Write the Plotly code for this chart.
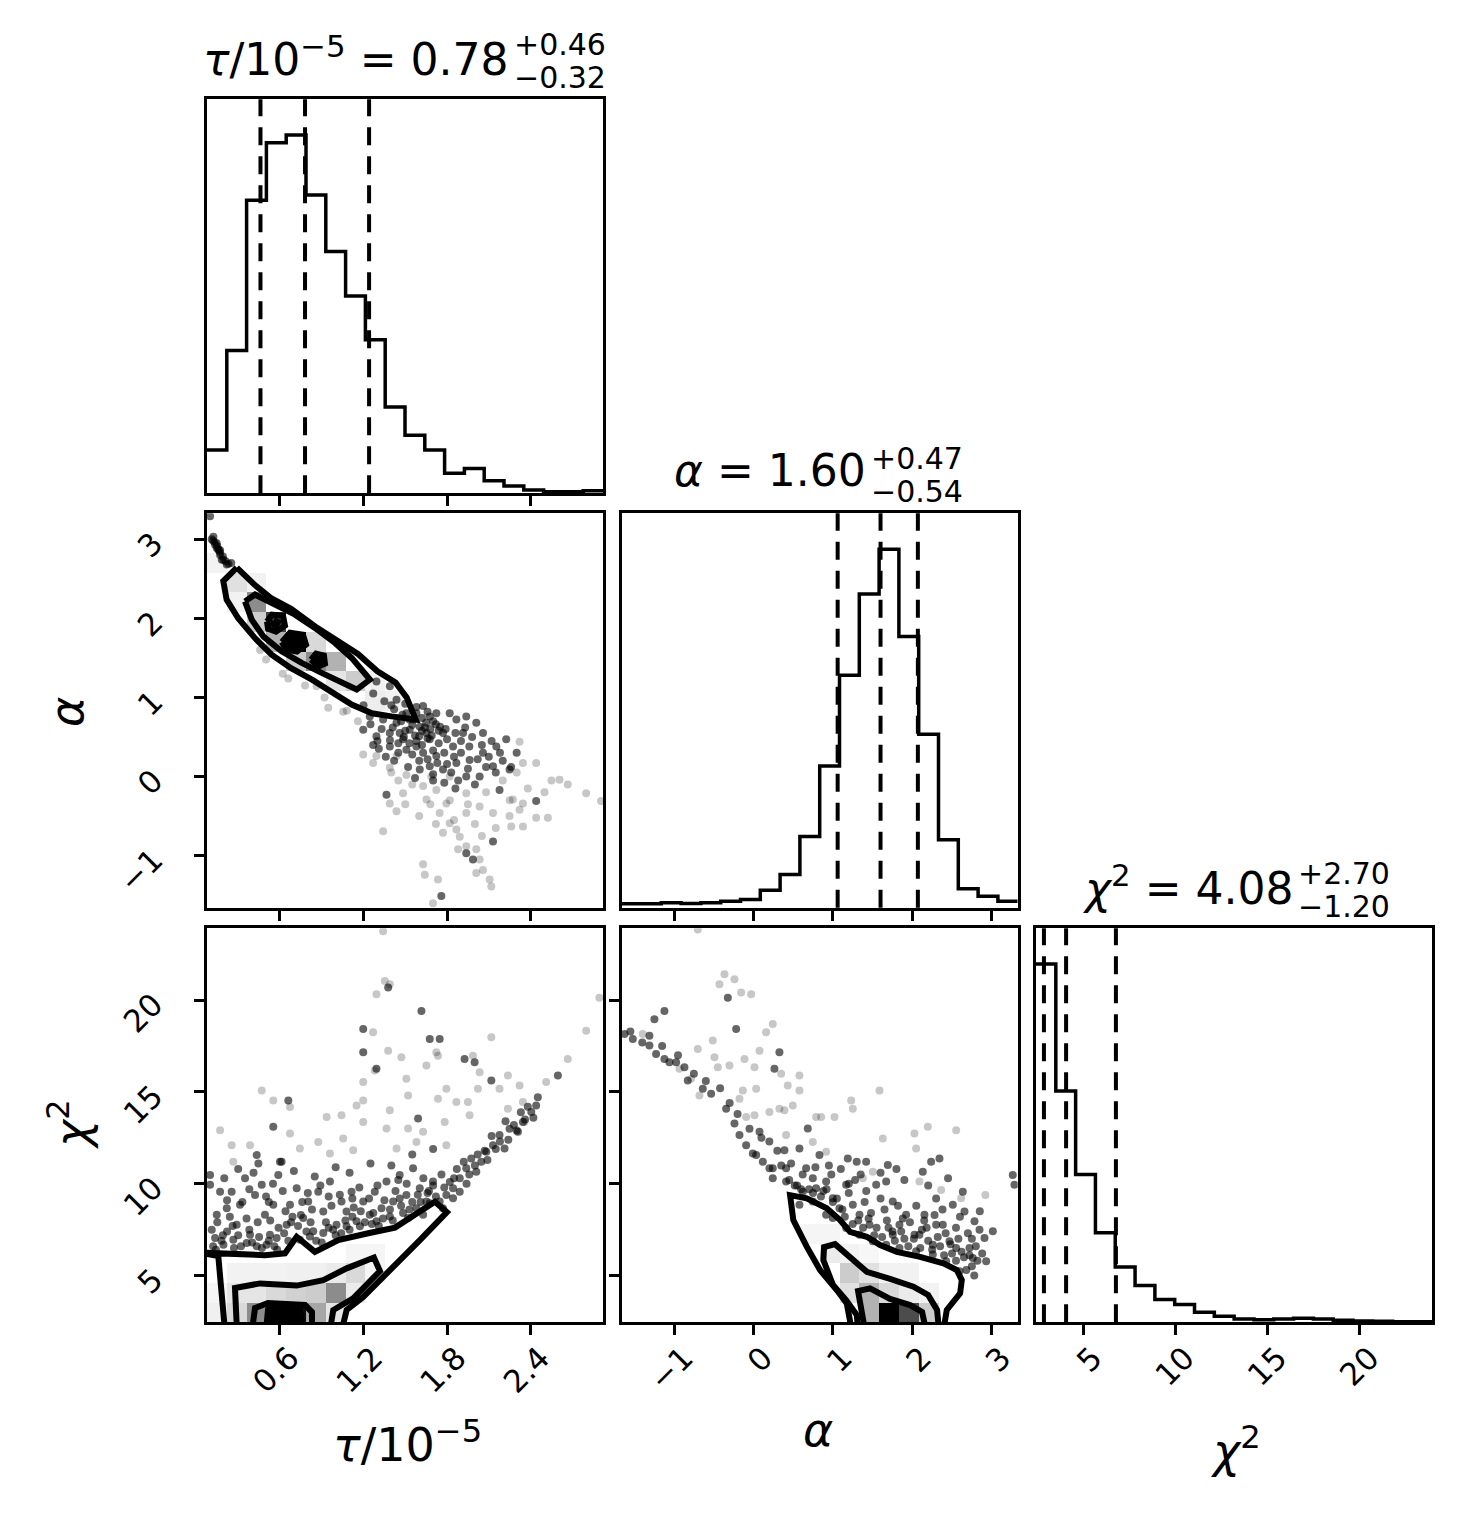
import numpy as np
import plotly.graph_objects as go


W, H = 1461, 1530
FONT = "DejaVu Sans"

# parameter ranges (tau is in units of 1e-5), 20 bins each
tau_range = [0.076, 2.92]
alpha_range = [-1.659, 3.327]
chi2_range = [2.45, 23.92]
nbins = 20

# 1D marginal histograms (counts per bin)
tau_counts = [130, 430, 882, 1055, 1078, 898, 728, 594, 462, 260, 175, 130, 60, 75, 38, 22, 10, 5, 5, 8]
alpha_counts = [12, 12, 15, 13, 15, 20, 25, 53, 100, 215, 427, 700, 945, 1080, 817, 523, 205, 57, 35, 20]
chi2_counts = [1073, 693, 443, 268, 166, 110, 68, 53, 30, 18, 10, 8, 10, 12, 10, 6, 4, 3, 2, 2]

# 16 / 50 / 84 percentiles
tau_q = [0.46, 0.78, 1.24]
alpha_q = [1.06, 1.60, 2.07]
chi2_q = [2.88, 4.08, 6.78]

tau_ticks = [0.6, 1.2, 1.8, 2.4]
alpha_ticks = [-1, 0, 1, 2, 3]
chi2_ticks = [5, 10, 15, 20]

# 2D density cells: (x bin, y bin, shade 0..1)
ta_cells = [(1, 16, 0.12), (1, 15, 0.05), (0, 17, 0.05), (2, 16, 0.05), (2, 15, 0.45), (2, 14, 0.2),
            (3, 14, 0.75), (3, 13, 0.3), (4, 13, 1.0), (4, 12, 0.2), (5, 13, 0.15), (5, 12, 0.45),
            (6, 12, 0.3), (6, 11, 0.1), (7, 11, 0.2), (8, 10, 0.07), (9, 10, 0.05), (8, 11, 0.05)]
tc_cells = [(0, 0, 0.06), (1, 0, 0.15), (2, 0, 0.45), (3, 0, 0.95), (4, 0, 0.95), (5, 0, 0.35), (6, 0, 0.1),
            (0, 1, 0.04), (1, 1, 0.1), (2, 1, 0.1), (3, 1, 0.15), (4, 1, 0.18), (5, 1, 0.2), (6, 1, 0.45), (7, 1, 0.08),
            (1, 2, 0.05), (2, 2, 0.05), (3, 2, 0.05), (4, 2, 0.06), (5, 2, 0.06), (6, 2, 0.08), (7, 2, 0.15), (8, 2, 0.04),
            (7, 3, 0.04), (8, 3, 0.04)]
ac_cells = [(12, 0, 0.3), (13, 0, 1.0), (14, 0, 0.7), (15, 0, 0.2),
            (11, 1, 0.12), (12, 1, 0.3), (13, 1, 0.15), (14, 1, 0.08), (15, 1, 0.05),
            (11, 2, 0.2), (12, 2, 0.12), (13, 2, 0.05), (14, 2, 0.05),
            (10, 3, 0.08), (11, 3, 0.05), (12, 3, 0.03), (9, 4, 0.04), (10, 4, 0.04)]

# contour paths (tau, alpha)
ta_outer = [(0.29, 2.64), (0.42, 2.42), (0.54, 2.25), (0.68, 2.12), (0.85, 1.90), (1.02, 1.71), (1.16, 1.55),
            (1.30, 1.33), (1.43, 1.19), (1.51, 1.00), (1.575, 0.72), (1.40, 0.76), (1.26, 0.80), (1.115, 0.91),
            (0.97, 1.075), (0.83, 1.225), (0.68, 1.37), (0.54, 1.54), (0.42, 1.75), (0.30, 2.00), (0.217, 2.235),
            (0.193, 2.47), (0.29, 2.64)]
ta_mid = [(0.349, 2.214), (0.421, 2.30), (0.564, 2.172), (0.708, 2.046), (0.851, 1.878), (0.995, 1.689),
          (1.115, 1.499), (1.246, 1.225), (1.151, 1.099), (1.043, 1.183), (0.899, 1.310), (0.756, 1.436),
          (0.612, 1.583), (0.480, 1.772), (0.397, 1.983), (0.349, 2.214)]
ta_ring = [(0.507, 1.958), (0.543, 2.046), (0.622, 2.033), (0.636, 1.907), (0.571, 1.831), (0.514, 1.869), (0.507, 1.958)]
ta_blobs = [
    [(0.555, 1.97), (0.585, 1.95), (0.57, 1.91), (0.55, 1.93)],
    [(0.614, 1.70), (0.672, 1.819), (0.765, 1.794), (0.787, 1.667), (0.722, 1.579), (0.643, 1.604)],
    [(0.823, 1.478), (0.859, 1.554), (0.916, 1.528), (0.923, 1.427), (0.873, 1.389)],
]

# contour paths (tau, chi2)
tc_outer = [(0.205, 2.0), (0.157, 6.06), (0.02, 6.25), (0.157, 6.22), (0.301, 6.21), (0.492, 6.11), (0.636, 6.21),
            (0.720, 7.11), (0.851, 6.29), (1.019, 6.93), (1.234, 7.30), (1.426, 7.61), (1.713, 9.02), (1.799, 8.45),
            (1.605, 6.93), (1.418, 5.48), (1.198, 3.83), (1.079, 3.12), (1.043, 2.0)]
tc_mid = [(0.291, 2.0), (0.277, 4.32), (0.457, 4.57), (0.720, 4.45), (0.911, 4.75), (1.079, 5.39), (1.275, 5.98),
          (1.318, 5.24), (1.126, 3.76), (0.983, 3.12), (0.959, 2.0)]
tc_inner = [(0.399, 2.0), (0.421, 3.23), (0.514, 3.50), (0.780, 3.39), (0.830, 3.01), (0.830, 2.0)]
tc_blob = [(0.500, 2.0), (0.514, 3.12), (0.614, 3.28), (0.744, 3.17), (0.765, 2.0)]

# contour paths (alpha, chi2)
ac_outer = [(1.238, 2.0), (1.175, 3.48), (1.049, 4.21), (0.838, 5.30), (0.671, 6.57), (0.502, 8.02), (0.461, 9.38),
            (0.671, 9.20), (0.923, 8.66), (1.090, 8.02), (1.216, 7.38), (1.427, 7.11), (1.594, 6.66), (1.805, 6.29),
            (2.098, 6.02), (2.391, 5.66), (2.560, 5.30), (2.623, 4.75), (2.602, 4.03), (2.434, 3.12), (2.391, 2.0)]
ac_mid = [(1.318, 2.0), (1.301, 2.85), (1.166, 3.66), (1.002, 4.48), (0.880, 5.84), (0.889, 6.55), (1.027, 6.71),
          (1.216, 5.95), (1.427, 5.20), (1.720, 4.81), (2.014, 4.39), (2.199, 3.94), (2.312, 3.12), (2.337, 2.0)]
ac_inner = [(1.405, 2.0), (1.355, 3.39), (1.317, 4.15), (1.468, 4.30), (1.720, 3.72), (1.972, 3.39), (2.123, 3.01), (2.174, 2.0)]

# samples outside the outer contour (tau, alpha)
ta_dense = [(0.098, 3.29), (0.122, 3.03), (0.134, 2.93), (0.146, 2.89), (0.158, 2.87), (0.170, 2.80), (0.182, 2.74),
            (0.194, 2.74), (0.218, 2.68), (0.146, 2.95), (0.170, 2.86), (0.11, 3.0), (0.13, 2.96), (0.12, 2.98),
            (0.15, 2.91), (0.17, 2.83), (0.19, 2.78), (0.21, 2.72), (0.16, 2.86), (0.23, 2.69), (0.25, 2.70),
            (1.293, 1.20), (1.389, 1.14), (1.437, 0.97), (1.508, 0.80), (1.628, 0.89), (1.676, 0.76), (1.723, 0.80),
            (1.604, 0.63), (1.652, 0.55), (1.532, 0.59), (1.437, 0.68), (1.341, 0.72), (1.245, 0.76), (1.198, 0.59),
            (1.293, 0.51), (1.389, 0.55), (1.484, 0.47), (1.580, 0.38), (1.676, 0.47), (1.771, 0.55), (1.819, 0.80),
            (1.867, 0.72), (1.938, 0.76), (2.010, 0.68), (2.058, 0.55), (1.915, 0.55), (1.843, 0.38), (1.723, 0.26),
            (1.628, 0.30), (1.508, 0.34), (1.389, 0.38), (1.269, 0.40), (1.676, 0.13), (1.771, 0.09), (1.867, 0.17),
            (1.962, 0.21), (2.058, 0.30), (2.154, 0.38), (2.225, 0.47), (2.034, 0.00), (1.938, 0.00), (2.130, 0.13),
            (1.604, 0.09), (1.53, 0.72), (1.58, 0.80), (1.65, 0.68), (1.75, 0.63), (1.80, 0.47), (1.60, 0.51),
            (1.46, 0.55), (1.53, 0.42), (1.938, -0.97), (1.986, -1.05), (1.759, -1.51), (1.365, -0.23),
            (2.177, -0.17), (2.249, 0.09), (2.440, -0.31), (2.130, -0.82),
            (1.35, 0.95), (1.42, 0.85), (1.47, 0.70), (1.55, 0.65), (1.62, 0.74), (1.70, 0.70), (1.74, 0.58),
            (1.68, 0.60), (1.57, 0.52), (1.50, 0.58), (1.41, 0.62), (1.33, 0.60), (1.25, 0.66), (1.30, 0.45),
            (1.45, 0.42), (1.62, 0.40), (1.70, 0.33), (1.78, 0.30), (1.85, 0.25), (1.90, 0.45), (1.98, 0.50),
            (2.05, 0.40), (2.10, 0.25), (1.95, 0.10), (1.83, 0.05), (1.73, 0.17), (1.60, 0.20), (1.55, 0.28),
            (1.45, 0.30), (1.36, 0.25), (2.20, 0.20), (2.30, 0.30), (1.20, 0.90), (1.27, 1.05), (1.50, 0.92),
            (1.58, 0.88), (1.66, 0.82), (2.15, 0.05), (2.00, -0.10), (1.88, -0.05), (1.78, -0.08), (1.70, 0.03),
            (1.40, 0.90), (1.48, 0.78), (1.56, 0.72), (1.64, 0.62), (1.72, 0.66), (1.79, 0.60), (1.86, 0.55),
            (1.93, 0.62), (1.96, 0.38), (2.02, 0.22), (2.08, 0.12), (1.74, 0.42), (1.66, 0.48), (1.58, 0.45),
            (1.49, 0.50), (1.39, 0.46), (1.31, 0.35), (1.42, 0.20), (1.52, 0.12), (1.66, 0.22), (1.80, 0.16),
            (1.90, 0.30), (2.12, 0.45), (2.18, 0.30), (2.26, 0.12), (1.86, -0.15), (1.70, -0.05), (1.57, -0.02),
            (1.62, 0.58), (1.69, 0.52)]
ta_faint = [(0.457, 1.60), (0.660, 1.24), (0.863, 1.14), (0.947, 0.87), (1.054, 0.82), (1.198, 0.28), (1.293, 0.26),
            (1.437, 0.26), (2.321, 0.44), (2.440, 0.17), (2.345, 0.17), (1.819, 0.00), (1.687, 0.00), (1.508, 0.02),
            (1.389, 0.11), (1.269, 0.17), (1.484, -0.21), (1.628, -0.12), (1.723, -0.17), (1.938, -0.21),
            (2.273, -0.29), (2.345, -0.34), (2.608, -0.04), (2.667, -0.10), (2.799, -0.21), (2.906, -0.31),
            (1.389, -0.34), (1.437, -0.44), (1.652, -0.29), (1.747, -0.46), (1.795, -0.34), (1.938, -0.46),
            (2.034, -0.38), (2.130, -0.46), (2.249, -0.50), (2.321, -0.42), (2.440, -0.52), (2.524, -0.52),
            (1.819, -0.59), (1.867, -0.67), (1.891, -0.76), (1.938, -0.88), (2.010, -0.92), (2.034, -1.05),
            (1.879, -0.92), (2.106, -1.30), (2.118, -1.39), (2.058, -1.18), (2.010, -1.22), (1.771, -0.71),
            (1.628, -1.11), (1.640, -1.24), (1.735, -1.30), (1.699, -1.60), (1.341, -0.69), (2.261, -0.63),
            (2.345, -0.63), (0.62, 1.30), (0.78, 1.15), (0.92, 1.00), (1.08, 0.83), (1.16, 0.70), (0.50, 1.48),
            (1.55, -0.10), (1.68, -0.35), (1.82, -0.30), (1.95, -0.35), (2.08, -0.20), (2.20, -0.05), (2.30, 0.05),
            (2.38, -0.15), (2.50, -0.20), (2.55, -0.05), (1.45, -0.05), (1.60, -0.50), (1.72, -0.60), (1.85, -0.55),
            (2.00, -0.60), (2.15, -0.65), (2.25, -0.30), (1.40, 0.05), (1.50, -0.35), (2.05, -0.75)]

# samples outside the outer contour (tau, chi2)
tc_dense = [(0.110, 7.50), (0.134, 7.04), (0.146, 8.31), (0.170, 9.57), (0.218, 8.67), (0.253, 9.57), (0.289, 7.77),
            (0.313, 8.85), (0.349, 10.30), (0.385, 7.22), (0.421, 9.39), (0.445, 11.11), (0.469, 9.94), (0.492, 8.31),
            (0.528, 7.22), (0.552, 8.85), (0.588, 10.48), (0.612, 11.20), (0.648, 7.77), (0.672, 8.85), (0.720, 9.75),
            (0.767, 8.13), (0.803, 9.03), (0.839, 7.41), (0.875, 9.57), (0.911, 8.49), (0.959, 10.12), (1.006, 7.77),
            (1.042, 9.03), (1.078, 8.49), (1.114, 9.57), (1.150, 7.95), (1.198, 9.03), (1.245, 8.31), (1.281, 9.57),
            (1.329, 8.67), (1.365, 10.12), (1.413, 9.03), (1.460, 10.48), (1.508, 9.39), (1.556, 10.84), (1.604, 9.75),
            (1.652, 9.03), (1.699, 10.12), (1.747, 9.03), (1.795, 9.39), (1.843, 9.75), (1.891, 10.30), (1.938, 10.84),
            (1.974, 11.38), (2.010, 10.66), (2.046, 11.20), (2.082, 11.74), (2.130, 12.10), (2.177, 12.65),
            (2.213, 11.92), (2.249, 13.00), (2.309, 12.83), (2.345, 13.37), (2.405, 13.91), (2.440, 14.27),
            (1.676, 17.89), (1.747, 17.89), (1.926, 16.80), (1.998, 16.62), (1.616, 19.42), (2.118, 15.63),
            (2.596, 15.90), (1.293, 16.26), (1.198, 17.16), (1.377, 20.69), (0.098, 10.48), (0.098, 9.94),
            (0.433, 11.56), (0.600, 11.20), (0.552, 13.10), (0.660, 14.54), (1.592, 13.55), (1.198, 18.43),
            (2.452, 14.72), (0.194, 6.68), (0.265, 6.95), (0.361, 6.77), (0.433, 6.59), (0.504, 6.68), (0.576, 7.04),
            (0.743, 6.95), (0.815, 7.13), (0.911, 7.31), (0.982, 7.50), (1.078, 7.68), (1.174, 7.68), (1.293, 7.95),
            (1.389, 8.22), (1.484, 8.40), (1.580, 8.67), (1.676, 8.94), (1.628, 8.31), (1.520, 8.13), (1.771, 8.67),
            (1.843, 9.21), (1.891, 9.57),
            (0.12, 6.6), (0.15, 7.9), (0.18, 6.9), (0.22, 7.4), (0.24, 8.2), (0.27, 6.5), (0.30, 7.2), (0.33, 9.0),
            (0.36, 8.1), (0.40, 6.8), (0.44, 7.9), (0.47, 6.5), (0.50, 9.3), (0.53, 8.0), (0.56, 6.6), (0.59, 7.6),
            (0.62, 9.6), (0.66, 6.9), (0.69, 8.2), (0.73, 7.7), (0.76, 9.0), (0.79, 7.4), (0.83, 8.6), (0.86, 6.9),
            (0.89, 9.9), (0.93, 7.9), (0.97, 8.8), (1.00, 7.2), (1.03, 9.4), (1.07, 8.0), (1.10, 7.5), (1.13, 8.7),
            (1.17, 9.8), (1.21, 7.9), (1.24, 9.2), (1.27, 8.4), (1.31, 7.7), (1.35, 9.1), (1.39, 8.6), (1.43, 9.6),
            (1.47, 8.8), (1.51, 10.0), (1.55, 9.0), (1.59, 9.4), (1.63, 10.3), (1.67, 9.6), (1.72, 9.3), (1.76, 10.5),
            (1.82, 10.1), (1.87, 10.8), (1.92, 11.2), (1.96, 10.5), (2.02, 11.6), (2.07, 11.8), (2.12, 12.6),
            (2.18, 12.3), (2.22, 13.4), (2.28, 13.2), (2.33, 13.9), (2.38, 14.2), (0.20, 10.3), (0.30, 10.8),
            (0.41, 10.6), (0.55, 10.0), (0.70, 10.7), (0.85, 10.4), (1.00, 10.9), (1.10, 10.6), (1.25, 11.1),
            (1.40, 11.0), (1.55, 11.6), (1.70, 11.9),
            (0.14, 6.4), (0.19, 7.2), (0.26, 7.7), (0.32, 6.6), (0.38, 7.5), (0.45, 7.1), (0.52, 6.9), (0.58, 6.4),
            (0.63, 7.3), (0.68, 7.9), (0.75, 8.3), (0.82, 7.9), (0.90, 6.8), (0.95, 7.6), (1.04, 7.3), (1.12, 8.2),
            (1.18, 8.5), (1.26, 7.8), (1.34, 8.1), (1.41, 8.0), (1.46, 9.2), (1.53, 8.6), (1.61, 9.0), (1.66, 9.5),
            (1.70, 9.9), (1.78, 9.8), (1.85, 10.3), (1.94, 10.0), (2.00, 11.0), (2.09, 11.3), (2.15, 11.9),
            (2.24, 12.4), (2.30, 12.9), (2.36, 13.5), (2.42, 13.6), (0.22, 9.1), (0.38, 9.7), (0.52, 9.0),
            (0.64, 8.5), (0.80, 9.5), (0.95, 9.3), (1.12, 9.2), (1.30, 9.9), (1.45, 10.2)]
tc_faint = [(0.170, 12.92), (0.265, 11.20), (0.469, 15.08), (0.672, 14.18), (0.672, 12.74), (0.935, 13.64),
            (0.959, 11.65), (1.054, 12.46), (1.126, 11.83), (1.150, 14.27), (1.198, 13.37), (1.269, 18.25),
            (1.353, 21.05), (1.293, 20.33), (1.389, 20.87), (1.341, 23.76), (1.377, 17.25), (1.281, 16.17),
            (1.198, 15.54), (1.389, 14.00), (1.472, 16.89), (1.508, 15.72), (1.520, 13.01), (1.580, 12.28),
            (1.652, 16.44), (1.723, 17.16), (1.735, 14.63), (1.795, 15.17), (1.795, 12.10), (1.867, 14.45),
            (1.950, 14.45), (2.022, 15.17), (2.034, 16.08), (2.118, 17.98), (2.177, 15.17), (2.237, 15.90),
            (2.321, 15.36), (2.345, 14.45), (2.512, 15.54), (2.667, 16.80), (2.799, 18.34), (2.894, 20.14),
            (1.986, 16.98), (1.735, 16.98), (1.628, 12.83), (1.520, 14.81), (1.365, 13.01), (1.042, 13.73),
            (0.875, 12.28), (0.743, 11.92), (0.385, 12.10), (0.253, 12.10), (0.552, 14.54), (1.198, 14.54),
            (1.437, 11.92), (1.783, 13.37), (1.962, 13.73), (2.237, 14.09), (2.357, 13.37)]

# samples outside the outer contour (alpha, chi2)
ac_dense = [(-1.624, 18.16), (-1.519, 17.89), (-1.310, 18.07), (-1.310, 17.53), (-1.247, 18.97), (-1.121, 19.42),
            (-1.226, 17.07), (-1.121, 16.80), (-1.058, 16.62), (-0.974, 16.62), (-0.869, 16.35), (-0.827, 15.63),
            (-0.638, 15.18), (-0.533, 14.90), (-0.323, 20.14), (-0.218, 18.43), (-0.344, 14.09), (-0.239, 13.28),
            (-0.176, 12.65), (-0.092, 12.10), (-0.008, 11.65), (0.076, 12.83), (0.118, 11.20), (0.201, 10.84),
            (0.243, 10.30), (0.264, 16.26), (0.327, 17.16), (0.390, 11.83), (0.411, 10.84), (0.474, 11.11),
            (0.579, 11.92), (0.684, 13.01), (0.663, 10.84), (0.747, 10.30), (0.831, 11.56), (0.915, 10.12),
            (0.999, 9.21), (1.083, 8.67), (1.188, 11.38), (1.167, 9.94), (1.251, 8.85), (1.335, 8.31), (1.419, 11.20),
            (1.461, 7.77), (1.545, 9.94), (1.671, 10.12), (1.692, 11.02), (1.754, 9.03), (1.838, 7.77), (1.922, 8.31),
            (2.027, 7.22), (2.132, 10.66), (2.153, 8.31), (2.237, 11.20), (2.258, 6.68), (2.342, 11.38), (2.384, 7.77),
            (2.468, 6.86), (2.510, 8.85), (2.636, 9.57), (2.657, 8.49), (2.720, 6.50), (2.783, 7.95), (2.846, 7.50),
            (2.909, 7.04), (2.930, 5.78), (3.014, 7.41), (3.265, 10.48), (3.286, 9.94), (1.838, 6.50), (1.671, 6.68),
            (1.503, 6.86), (1.335, 7.22), (1.167, 7.59), (0.999, 8.13), (2.048, 6.32), (2.258, 6.14), (2.426, 5.78),
            (2.594, 5.23), (2.552, 6.50), (2.762, 5.96), (1.754, 7.22), (2.090, 7.22), (2.300, 7.77), (0.789, 9.75),
            (0.621, 9.57), (0.411, 10.12), (0.243, 10.84), (0.034, 11.56), (0.579, 8.85), (0.747, 9.03), (0.915, 8.31),
            (0.55, 9.9), (0.62, 10.5), (0.70, 9.7), (0.78, 10.9), (0.85, 9.3), (0.92, 9.7), (0.98, 10.5), (1.05, 9.2),
            (1.12, 8.6), (1.20, 9.5), (1.28, 10.2), (1.32, 8.0), (1.40, 9.0), (1.48, 8.4), (1.55, 7.6), (1.60, 9.2),
            (1.68, 8.0), (1.75, 7.4), (1.82, 8.8), (1.90, 7.0), (1.97, 7.9), (2.05, 8.8), (2.12, 7.5), (2.20, 6.9),
            (2.28, 8.3), (2.35, 6.6), (2.42, 7.3), (2.50, 6.2), (2.58, 7.0), (2.65, 6.0), (2.70, 7.3), (2.75, 5.5),
            (2.80, 6.6), (2.88, 6.2), (0.30, 11.8), (0.20, 12.3), (0.10, 12.5), (-0.05, 13.0), (-0.20, 13.8),
            (-0.30, 14.4), (-0.42, 15.2), (-0.60, 15.6), (-0.75, 16.0), (-0.95, 17.0), (-1.15, 17.5), (-1.40, 17.7),
            (-1.55, 18.3), (1.10, 10.8), (1.35, 10.5), (1.60, 10.6), (1.90, 10.2), (2.20, 9.9), (2.45, 10.3),
            (2.60, 8.2), (2.85, 8.5), (0.45, 10.2), (0.35, 11.0),
            (0.52, 9.9), (0.60, 9.7), (0.75, 9.5), (0.88, 9.6), (1.00, 9.0), (1.15, 8.2), (1.25, 7.8), (1.38, 7.6),
            (1.45, 8.1), (1.52, 7.2), (1.62, 7.1), (1.70, 7.6), (1.78, 6.9), (1.86, 7.4), (1.95, 6.6), (2.02, 7.0),
            (2.10, 6.5), (2.18, 7.6), (2.25, 6.4), (2.32, 7.1), (2.40, 6.1), (2.48, 6.7), (2.55, 5.8), (2.62, 6.3),
            (2.68, 5.3), (2.72, 6.1), (2.78, 5.0), (2.82, 5.8), (1.20, 10.0), (1.42, 9.6), (1.65, 8.6), (1.88, 8.1),
            (2.15, 8.0), (2.38, 8.6), (2.55, 7.6), (0.95, 11.0), (1.30, 11.2), (1.80, 10.8), (2.30, 9.2), (2.75, 7.0)]
ac_faint = [(-0.701, 23.85), (-0.428, 20.87), (-0.365, 21.41), (-0.239, 21.14), (-0.029, 20.33), (-0.155, 20.42),
            (-0.701, 17.34), (-0.512, 17.80), (-0.491, 16.89), (-0.449, 16.35), (-0.302, 16.44), (-0.113, 16.80),
            (0.013, 16.35), (0.076, 17.25), (0.159, 18.25), (0.243, 18.70), (0.348, 15.99), (0.432, 15.36),
            (0.579, 15.90), (0.495, 14.27), (0.390, 14.00), (0.579, 15.08), (0.034, 15.18), (-0.134, 15.08),
            (-0.176, 14.63), (-0.092, 13.64), (0.013, 13.73), (0.201, 13.91), (0.327, 14.09), (0.789, 13.64),
            (1.020, 13.64), (1.230, 14.54), (1.587, 15.08), (1.251, 14.09), (0.852, 13.64), (0.915, 11.74),
            (1.629, 12.46), (2.027, 12.74), (2.195, 13.10), (2.552, 12.92), (2.048, 11.92), (2.090, 10.12),
            (2.363, 9.66), (2.920, 9.39), (2.615, 9.21), (1.377, 10.30), (1.503, 10.66), (0.747, 12.28),
            (0.411, 12.65), (-0.680, 14.81), (-0.785, 15.72), (-0.932, 16.26), (-1.394, 18.16)]


# panel layout: (x domain, y domain) in paper units, margins are zero
col_dom = [[207 / W, 603 / W], [621.7 / W, 1017.7 / W], [1036 / W, 1432.3 / W]]
row_dom = [[1 - 493.3 / H, 1 - 99.3 / H], [1 - 907.8 / H, 1 - 513.3 / H], [1 - 1322.3 / H, 1 - 928.3 / H]]


def ax(dom, rng, anchor, ticks=None, labels=False, kind="x", **kw):
    d = dict(domain=dom, range=rng, anchor=anchor, showgrid=False, zeroline=False,
             showline=True, mirror=True, linecolor="black", linewidth=3,
             tickfont=dict(family=FONT, size=31, color="black"))
    if ticks is None:
        d.update(ticks="", showticklabels=False)
    else:
        d.update(ticks="outside", ticklen=10, tickwidth=3, tickcolor="black",
                 tickvals=ticks, ticktext=[str(t).replace("-", "\u2212") for t in ticks],
                 showticklabels=labels, tickangle=-45)
        if kind == "x":
            d.update(ticklabelstandoff=-8, ticklabelshift=10)
        else:
            d.update(ticklabelstandoff=34)
    d.update(kw)
    return d


def hist_trace(counts, rng, xa, ya):
    edges = np.linspace(rng[0], rng[1], nbins + 1)
    ys = list(counts) + [counts[-1]]
    return go.Scatter(x=edges, y=ys, mode="lines", line=dict(color="black", width=3.5, shape="hv"),
                      xaxis=xa, yaxis=ya, hoverinfo="skip", showlegend=False)


def density_trace(cells, xr, yr, xa, ya):
    xe = np.linspace(xr[0], xr[1], nbins + 1)
    ye = np.linspace(yr[0], yr[1], nbins + 1)
    z = [[None] * nbins for _ in range(nbins)]
    for i, j, v in cells:
        z[j][i] = v
    return go.Heatmap(x=0.5 * (xe[1:] + xe[:-1]), y=0.5 * (ye[1:] + ye[:-1]), z=z, zmin=0, zmax=1,
                      colorscale=[[0, "rgba(0,0,0,0)"], [1, "rgba(0,0,0,1)"]], showscale=False,
                      xaxis=xa, yaxis=ya, hoverinfo="skip")


def points_trace(pairs, xa, ya, op):
    xs, ys = zip(*pairs)
    return go.Scatter(x=xs, y=ys, mode="markers",
                      marker=dict(color="black", size=8, opacity=op, line=dict(width=0)),
                      xaxis=xa, yaxis=ya, hoverinfo="skip", showlegend=False)


def contour_trace(path, xa, ya, fill=False):
    xs, ys = zip(*path)
    kw = dict(fill="toself", fillcolor="black") if fill else {}
    return go.Scatter(x=xs, y=ys, mode="lines", line=dict(color="black", width=6),
                      xaxis=xa, yaxis=ya, hoverinfo="skip", showlegend=False, **kw)


traces = []

# diagonal
traces.append(hist_trace(tau_counts, tau_range, "x", "y"))
traces.append(hist_trace(alpha_counts, alpha_range, "x3", "y3"))
traces.append(hist_trace(chi2_counts, chi2_range, "x6", "y6"))

# tau vs alpha
traces.append(density_trace(ta_cells, tau_range, alpha_range, "x2", "y2"))
traces.append(points_trace(ta_faint, "x2", "y2", 0.22))
traces.append(points_trace(ta_dense, "x2", "y2", 0.6))
traces.append(contour_trace(ta_outer, "x2", "y2"))
traces.append(contour_trace(ta_mid, "x2", "y2"))
traces.append(contour_trace(ta_ring, "x2", "y2"))
for b in ta_blobs:
    traces.append(contour_trace(b + [b[0]], "x2", "y2", fill=True))

# tau vs chi2
traces.append(density_trace(tc_cells, tau_range, chi2_range, "x4", "y4"))
traces.append(points_trace(tc_faint, "x4", "y4", 0.22))
traces.append(points_trace(tc_dense, "x4", "y4", 0.6))
traces.append(contour_trace(tc_outer, "x4", "y4"))
traces.append(contour_trace(tc_mid, "x4", "y4"))
traces.append(contour_trace(tc_inner, "x4", "y4"))
traces.append(contour_trace(tc_blob, "x4", "y4", fill=True))

# alpha vs chi2
traces.append(density_trace(ac_cells, alpha_range, chi2_range, "x5", "y5"))
traces.append(points_trace(ac_faint, "x5", "y5", 0.22))
traces.append(points_trace(ac_dense, "x5", "y5", 0.6))
traces.append(contour_trace(ac_outer, "x5", "y5"))
traces.append(contour_trace(ac_mid, "x5", "y5"))
traces.append(contour_trace(ac_inner, "x5", "y5"))

fig = go.Figure(data=traces)

fig.update_layout(
    width=W, height=H,
    margin=dict(l=0, r=0, t=0, b=0),
    paper_bgcolor="white", plot_bgcolor="white",
    showlegend=False,
    xaxis=ax(col_dom[0], tau_range, "y", tau_ticks),
    yaxis=ax(row_dom[0], [0, 1.1 * max(tau_counts)], "x", kind="y"),
    xaxis2=ax(col_dom[0], tau_range, "y2", tau_ticks),
    yaxis2=ax(row_dom[1], alpha_range, "x2", alpha_ticks, labels=True, kind="y"),
    xaxis3=ax(col_dom[1], alpha_range, "y3", alpha_ticks),
    yaxis3=ax(row_dom[1], [0, 1.1 * max(alpha_counts)], "x3", kind="y"),
    xaxis4=ax(col_dom[0], tau_range, "y4", tau_ticks, labels=True),
    yaxis4=ax(row_dom[2], chi2_range, "x4", chi2_ticks, labels=True, kind="y"),
    xaxis5=ax(col_dom[1], alpha_range, "y5", alpha_ticks, labels=True),
    yaxis5=ax(row_dom[2], chi2_range, "x5", chi2_ticks, kind="y"),
    xaxis6=ax(col_dom[2], chi2_range, "y6", chi2_ticks, labels=True),
    yaxis6=ax(row_dom[2], [0, 1.1 * max(chi2_counts)], "x6", kind="y"),
)

# percentile lines on the diagonal
shapes = []
for qs, xr, yr in [(tau_q, "x", "y"), (alpha_q, "x3", "y3"), (chi2_q, "x6", "y6")]:
    for q in qs:
        shapes.append(dict(type="line", xref=xr, yref=yr + " domain", x0=q, x1=q, y0=0, y1=1,
                           line=dict(color="black", width=4, dash="18px,11px")))
fig.update_layout(shapes=shapes)

# titles with stacked errors
annots = []
titles = [
    ("<i>\u03c4</i>/10<sup>\u22125</sup> = 0.78", "+0.46", "\u22120.32", 511, 99.3),
    ("<i>\u03b1</i> = 1.60", "+0.47", "\u22120.54", 868, 513.3),
    ("<i>\u03c7</i><sup>2</sup> = 4.08", "+2.70", "\u22121.20", 1295, 928.3),
]
for main, up, lo, xs, top in titles:
    annots.append(dict(text=main, x=xs / W, y=1 - (top - 43) / H, xref="paper", yref="paper",
                       xanchor="right", yanchor="middle", showarrow=False,
                       font=dict(family=FONT, size=44, color="black")))
    annots.append(dict(text=up, x=(xs + 1) / W, y=1 - (top - 55) / H, xref="paper", yref="paper",
                       xanchor="left", yanchor="middle", showarrow=False,
                       font=dict(family=FONT, size=30, color="black")))
    annots.append(dict(text=lo, x=(xs + 1) / W, y=1 - (top - 22) / H, xref="paper", yref="paper",
                       xanchor="left", yanchor="middle", showarrow=False,
                       font=dict(family=FONT, size=30, color="black")))

# axis labels
labels = [
    ("<i>\u03c4</i>/10<sup>\u22125</sup>", 408, 1442, 0),
    ("<i>\u03b1</i>", 818, 1430, 0),
    ("<i>\u03c7</i><sup>2</sup>", 1235, 1448, 0),
    ("<i>\u03b1</i>", 67, 712, -90),
    ("<i>\u03c7</i><sup>2</sup>", 69, 1125, -90),
]
for txt, px, py, ang in labels:
    annots.append(dict(text=txt, x=px / W, y=1 - py / H, xref="paper", yref="paper",
                       xanchor="center", yanchor="middle", showarrow=False, textangle=ang,
                       font=dict(family=FONT, size=46, color="black")))

fig.update_layout(annotations=annots)

fig.write_html("out.html", config={"displayModeBar": False},
               post_script="document.body.style.margin='0px';")
